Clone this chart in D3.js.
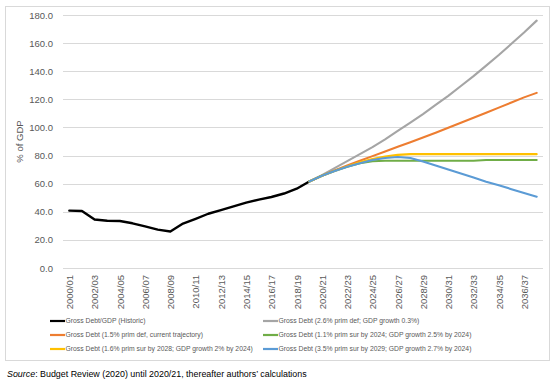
<!DOCTYPE html>
<html>
<head>
<meta charset="utf-8">
<script src="https://cdn.jsdelivr.net/npm/d3@7"></script>
<style>
  body { margin: 0; background: #fff; }
  svg { display: block; font-family: "Liberation Sans", Arial, sans-serif; }
  .grid line { stroke: #d9d9d9; stroke-width: 1; }
  .tick-label { fill: #595959; }
</style>
</head>
<body>
<svg id="chart" width="559" height="385"></svg>
<script>
// fiscal years on the category axis
const years = [
  "2000/01", "2001/02", "2002/03", "2003/04", "2004/05", "2005/06", "2006/07", "2007/08",
  "2008/09", "2009/10", "2010/11", "2011/12", "2012/13", "2013/14", "2014/15", "2015/16",
  "2016/17", "2017/18", "2018/19", "2019/20", "2020/21", "2021/22", "2022/23", "2023/24",
  "2024/25", "2025/26", "2026/27", "2027/28", "2028/29", "2029/30", "2030/31", "2031/32",
  "2032/33", "2033/34", "2034/35", "2035/36", "2036/37", "2037/38"
];

// 2000/01 .. 2019/20
const historic = [40.8, 40.6, 34.5, 33.6, 33.4, 31.8, 29.6, 27.3, 26.0, 31.6,
  35.0, 38.6, 41.2, 43.9, 46.5, 48.6, 50.5, 53.0, 56.4, 61.6];

// projections, 2019/20 .. 2037/38
const primDef26 = [61.6, 66.0, 71.0, 76.0, 81.0, 86.0, 91.5, 97.5, 103.5, 109.5,
  116.0, 122.5, 129.5, 136.5, 144.0, 151.5, 159.5, 167.5, 176.0];
const primDef15 = [61.6, 65.6, 69.4, 72.9, 76.3, 79.6, 82.9, 86.2, 89.5, 92.9,
  96.3, 99.8, 103.3, 106.9, 110.5, 114.1, 117.8, 121.4, 124.6];
const primSur11 = [61.6, 65.6, 69.0, 72.0, 74.5, 76.0, 76.3, 76.3, 76.3, 76.3,
  76.3, 76.3, 76.3, 76.3, 76.8, 76.8, 76.8, 76.8, 76.8];
const primSur16 = [61.6, 65.6, 69.1, 72.3, 75.2, 77.5, 79.3, 80.5, 81.0, 81.0,
  81.0, 81.0, 81.0, 81.0, 81.0, 81.0, 81.0, 81.0, 81.0];
const primSur35 = [61.6, 65.6, 69.0, 72.0, 74.6, 76.8, 78.3, 79.0, 78.3, 75.8,
  72.9, 70.0, 67.2, 64.4, 61.4, 58.8, 56.1, 53.4, 50.7];

const yTicks = [0, 20, 40, 60, 80, 100, 120, 140, 160, 180];

const seriesNames = [
  "Gross Debt/GDP (Historic)",
  "Gross Debt (2.6% prim def; GDP growth 0.3%)",
  "Gross Debt (1.5% prim def, current trajectory)",
  "Gross Debt (1.1% prim sur by 2024; GDP growth 2.5% by 2024)",
  "Gross Debt (1.6% prim sur by 2028; GDP growth 2% by 2024)",
  "Gross Debt (3.5% prim sur by 2029; GDP growth 2.7% by 2024)"
];
const seriesColors = ["#000000", "#a5a5a5", "#ed7d31", "#70ad47", "#ffc000", "#5b9bd5"];

const projStart = years.indexOf("2019/20");
const series = [
  { name: seriesNames[0], color: seriesColors[0], width: 2.4,
    values: historic.map((v, i) => ({ year: years[i], v })) },
  ...[primDef26, primDef15, primSur11, primSur16, primSur35].map((arr, k) => ({
    name: seriesNames[k + 1], color: seriesColors[k + 1], width: 2.1,
    values: arr.map((v, i) => ({ year: years[projStart + i], v }))
  }))
];

const svg = d3.select("#chart");
const plot = { left: 63, right: 543, top: 15, bottom: 268 };

// chart frame
svg.append("rect")
  .attr("x", 5.5).attr("y", 6.5)
  .attr("width", 544).attr("height", 354)
  .attr("fill", "#fff")
  .attr("stroke", "#d9d9d9");

const x = d3.scalePoint().domain(years).range([plot.left, plot.right]).padding(0.5);
const y = d3.scaleLinear().domain([0, 180]).range([plot.bottom, plot.top]);

// horizontal gridlines
svg.append("g").attr("class", "grid")
  .selectAll("line")
  .data(yTicks)
  .join("line")
  .attr("x1", plot.left).attr("x2", plot.right)
  .attr("y1", (d) => Math.round(y(d)) + 0.5)
  .attr("y2", (d) => Math.round(y(d)) + 0.5);

// y axis labels
const yAxis = svg.append("g")
  .attr("transform", `translate(${plot.left},0)`)
  .call(d3.axisLeft(y).tickValues(yTicks).tickFormat(d3.format(".1f")).tickSize(0).tickPadding(10));
yAxis.select(".domain").remove();
yAxis.selectAll("text")
  .attr("class", "tick-label")
  .attr("font-size", 9.5)
  .attr("font-family", "Liberation Sans, Arial, sans-serif");

// y title
svg.append("text")
  .attr("transform", `translate(23,${(plot.top + plot.bottom) / 2}) rotate(-90)`)
  .attr("text-anchor", "middle")
  .attr("font-size", 9.5)
  .attr("fill", "#595959")
  .text("% of GDP");

// x axis labels, every second year
const xAxis = svg.append("g")
  .attr("transform", `translate(0,${plot.bottom})`)
  .call(d3.axisBottom(x).tickValues(years.filter((_, i) => i % 2 === 0)).tickSize(0).tickPadding(0));
xAxis.select(".domain").remove();
xAxis.selectAll("text")
  .attr("class", "tick-label")
  .attr("font-size", 9.5)
  .attr("font-family", "Liberation Sans, Arial, sans-serif")
  .attr("text-anchor", "end")
  .attr("dy", "0.35em")
  .attr("transform", "translate(0,7) rotate(-90)");

// lines
const line = d3.line()
  .x((d) => x(d.year))
  .y((d) => y(d.v));

svg.append("g")
  .selectAll("path")
  .data(series)
  .join("path")
  .attr("fill", "none")
  .attr("stroke", (d) => d.color)
  .attr("stroke-width", (d) => d.width)
  .attr("stroke-linejoin", "round")
  .attr("stroke-linecap", "round")
  .attr("d", (d) => line(d.values));

// legend, two columns filled row by row
const legendCols = [50, 263];
const legendRows = [321, 335, 349];
const legend = svg.append("g")
  .selectAll("g")
  .data(series)
  .join("g")
  .attr("transform", (_, i) => `translate(${legendCols[i % 2]},${legendRows[Math.floor(i / 2)]})`);
legend.append("line")
  .attr("x1", 0).attr("x2", 15)
  .attr("stroke", (d) => d.color)
  .attr("stroke-width", 2.2);
legend.append("text")
  .attr("x", 15.5)
  .attr("dy", "0.35em")
  .attr("font-size", 6.8)
  .attr("fill", "#595959")
  .text((d) => d.name);

// source note
const note = svg.append("text")
  .attr("x", 7)
  .attr("y", 377)
  .attr("font-size", 8.9)
  .attr("fill", "#000");
note.append("tspan").attr("font-style", "italic").text("Source");
note.append("tspan").text(": Budget Review (2020) until 2020/21, thereafter authors\u2019 calculations");
</script>
</body>
</html>
